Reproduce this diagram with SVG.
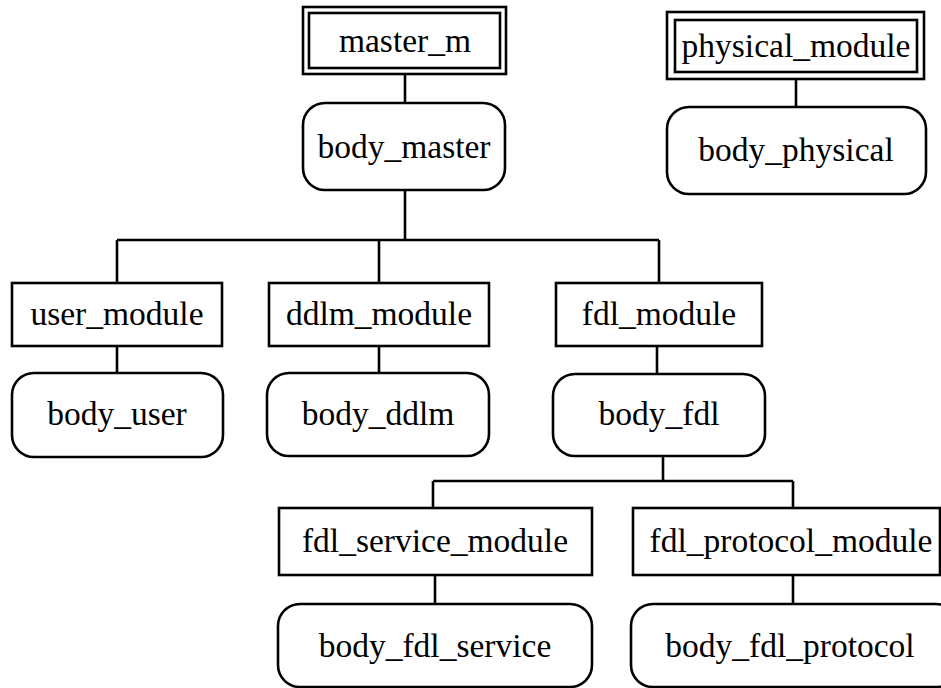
<svg xmlns="http://www.w3.org/2000/svg" width="941" height="688" viewBox="0 0 941 688">
<style>
.b{fill:#fff;stroke:#000;stroke-width:2.6}
.e{fill:none;stroke:#000;stroke-width:2.6}
text{font-family:"Liberation Serif","Times New Roman",serif;font-size:33.5px;text-anchor:middle;fill:#000}
</style>
<rect width="941" height="688" fill="#fff"/>
<g id="connectors" class="e">
<path d="M405,74V103"/>
<path d="M405,190V240M117,240H659M117,240V283M379,240V283M659,240V283"/>
<path d="M796,79V107"/>
<path d="M117,346V373"/>
<path d="M379,346V373"/>
<path d="M657,346V374"/>
<path d="M663,456V481M433,481H793M433,481V508M793,481V508"/>
<path d="M435,575V604"/>
<path d="M793,575V604"/>
</g>
<g id="master_m"><rect class="b" x="303" y="7" width="203" height="67"/><rect class="b" x="309" y="13" width="191" height="55"/><text x="405" y="52">master_m</text></g>
<g id="body_master"><rect class="b" x="303" y="103" width="202" height="87" rx="22"/><text x="404" y="158">body_master</text></g>
<g id="physical_module"><rect class="b" x="667" y="12" width="257" height="67"/><rect class="b" x="675" y="20" width="242" height="52"/><text x="796" y="57">physical_module</text></g>
<g id="body_physical"><rect class="b" x="667" y="107" width="259" height="87" rx="22"/><text x="796" y="161">body_physical</text></g>
<g id="user_module"><rect class="b" x="12" y="283" width="210" height="63"/><text x="117" y="325">user_module</text></g>
<g id="body_user"><rect class="b" x="12" y="373" width="211" height="84" rx="22"/><text x="117" y="425">body_user</text></g>
<g id="ddlm_module"><rect class="b" x="269" y="283" width="220" height="63"/><text x="379" y="325">ddlm_module</text></g>
<g id="body_ddlm"><rect class="b" x="267" y="373" width="222" height="83" rx="22"/><text x="378" y="425">body_ddlm</text></g>
<g id="fdl_module"><rect class="b" x="556" y="283" width="206" height="63"/><text x="659" y="325">fdl_module</text></g>
<g id="body_fdl"><rect class="b" x="553" y="374" width="212" height="82" rx="22"/><text x="659" y="425">body_fdl</text></g>
<g id="fdl_service_module"><rect class="b" x="279" y="508" width="313" height="67"/><text x="435" y="552">fdl_service_module</text></g>
<g id="body_fdl_service"><rect class="b" x="278" y="604" width="314" height="83" rx="22"/><text x="435" y="657">body_fdl_service</text></g>
<g id="fdl_protocol_module"><rect class="b" x="633" y="508" width="307" height="67"/><text x="791" y="552">fdl_protocol_module</text></g>
<g id="body_fdl_protocol"><rect class="b" x="631" y="604" width="327" height="83" rx="22"/><text x="790" y="657">body_fdl_protocol</text></g>
</svg>
